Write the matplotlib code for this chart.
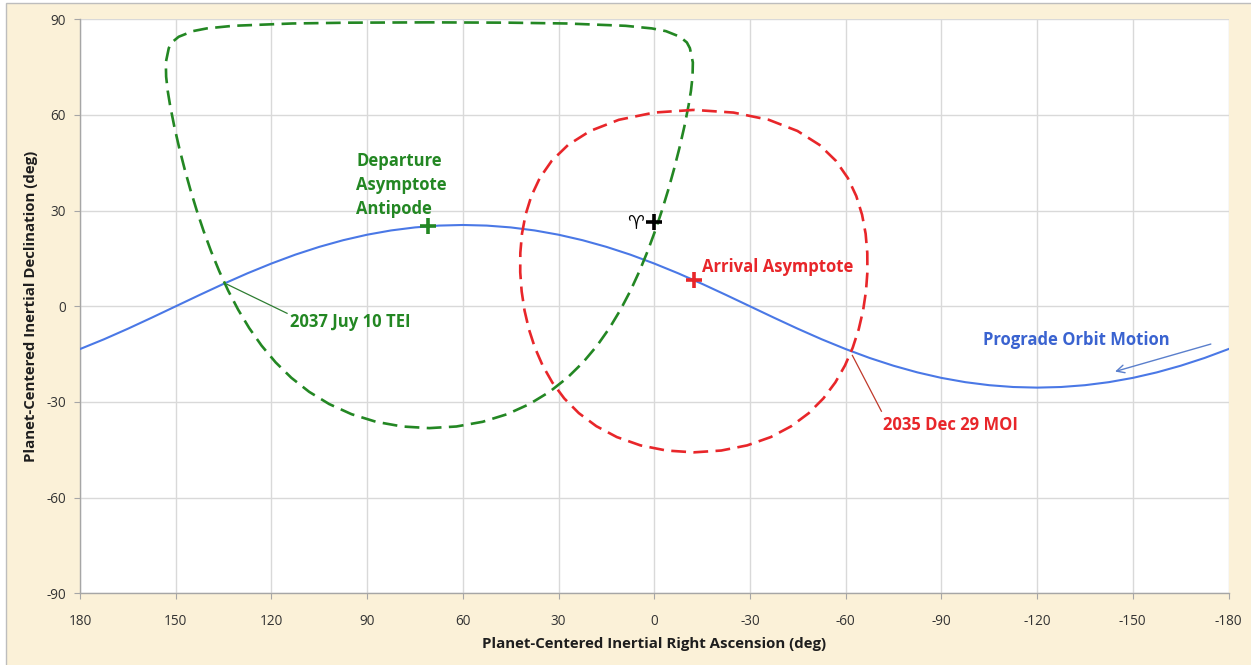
import matplotlib
matplotlib.use("Agg")
import matplotlib.pyplot as plt
from matplotlib.patches import Rectangle

plt.rcParams['axes.unicode_minus'] = False
plt.rcParams['font.family'] = ['Open Sans', 'DejaVu Sans']

# Orbit ground track (right ascension, declination), degrees
orbit_ra = [180, 172.5, 165, 157.5, 150, 142.5, 135, 127.5, 120, 112.5, 105, 97.5,
            90, 82.5, 75, 67.5, 60, 52.5, 45, 37.5, 30, 22.5, 15, 7.5, 0,
            -7.5, -15, -22.5, -30, -37.5, -45, -52.5, -60, -67.5, -75, -82.5,
            -90, -97.5, -105, -112.5, -120, -127.5, -135, -142.5, -150, -157.5,
            -165, -172.5, -180]
orbit_dec = [-13.41, -10.35, -7.04, -3.56, 0.0, 3.56, 7.04, 10.35, 13.41, 16.20, 18.64, 20.73,
             22.45, 23.79, 24.74, 25.31, 25.5, 25.31, 24.74, 23.79, 22.45, 20.73, 18.64, 16.20, 13.41,
             10.35, 7.04, 3.56, 0.0, -3.56, -7.04, -10.35, -13.41, -16.20, -18.64, -20.73,
             -22.45, -23.79, -24.74, -25.31, -25.5, -25.31, -24.74, -23.79, -22.45, -20.73,
             -18.64, -16.20, -13.41]

# Departure asymptote antipode locus
dep_ra = [70.5, 95.5, 113.45, 132.0, 140.27, 144.68, 149.07, 151.22, 152.17, 153.1,
          153.0, 152.5, 151.77, 150.44, 148.91, 147.22, 145.39, 143.4, 141.25, 138.91,
          136.35, 133.54, 130.42, 126.96, 123.07, 118.69, 113.75, 108.17, 101.88, 94.87,
          87.2, 79.0, 70.5,
          62.0, 53.8, 46.13, 39.12, 32.83, 27.25, 22.31, 17.93, 14.04, 10.58, 7.46,
          4.65, 2.09, -0.25, -2.4, -4.39, -6.22, -7.91, -9.44, -10.77, -11.5, -12.0,
          -12.1, -11.17, -10.22, -8.07, -3.68, 0.73, 9.0, 27.55, 45.5, 70.5]
dep_dec = [89.04, 88.94, 88.69, 87.96, 87.14, 86.28, 84.52, 82.74, 80.96, 76.48,
           72.0, 67.53, 63.06, 56.37, 49.72, 43.10, 36.53, 30.02, 23.59, 17.24,
           11.0, 4.88, -1.07, -6.83, -12.35, -17.57, -22.42, -26.82, -30.66, -33.84,
           -36.22, -37.69, -38.2,
           -37.69, -36.22, -33.84, -30.66, -26.82, -22.42, -17.57, -12.35, -6.83, -1.07, 4.88,
           11.0, 17.24, 23.59, 30.02, 36.53, 43.10, 49.72, 56.37, 63.06, 67.53, 72.0,
           76.48, 80.96, 82.74, 84.52, 86.28, 87.14, 87.96, 88.69, 88.94, 89.04]

# Arrival asymptote locus
arr_ra = [-12.4, 0.05, 11.11, 20.10, 27.01, 32.14, 35.88, 38.53, 40.34, 41.46, 41.98,
          42.01, 41.56, 40.66, 39.29, 37.42, 35.00, 31.96, 28.21, 23.64, 18.16, 11.72,
          4.34, -3.81, -12.4,
          -20.99, -29.14, -36.52, -42.96, -48.44, -53.01, -56.76, -59.80, -62.22, -64.09,
          -65.46, -66.36, -66.81, -66.78, -66.26, -65.14, -63.33, -60.68, -56.94, -51.81,
          -44.90, -35.91, -24.85, -12.4]
arr_dec = [61.59, 60.75, 58.48, 54.98, 50.60, 45.62, 40.23, 34.56, 28.72, 22.76, 16.74,
           10.69, 4.67, -1.31, -7.20, -12.95, -18.53, -23.87, -28.89, -33.50, -37.59, -41.01,
           -43.61, -45.23, -45.80,
           -45.23, -43.61, -41.01, -37.59, -33.50, -28.89, -23.87, -18.53, -12.95, -7.20,
           -1.31, 4.67, 10.69, 16.74, 22.76, 28.72, 34.56, 40.23, 45.62, 50.60,
           54.98, 58.48, 60.75, 61.59]

# Marked directions
dep_point = (70.9, 25.3)
arr_point = (-12.5, 8.2)
aries_point = (0.0, 26.4)

ticks = [180, 150, 120, 90, 60, 30, 0, -30, -60, -90, -120, -150, -180]
yticks = [-90, -60, -30, 0, 30, 60, 90]

GREEN = '#238723'
RED = '#E8262A'
BLUE = '#4A78E6'
BLUE_TXT = '#3A63D0'
GRID = '#D9D9D9'
AXIS = '#A6A6A6'
CREAM = '#FBF1D8'

fig = plt.figure(figsize=(12.51, 6.65), dpi=100, facecolor='white')
fig.patches.append(Rectangle((6 / 1251, -0.02), 1.1, 0.9955 + 0.02,
                             transform=fig.transFigure, facecolor=CREAM,
                             edgecolor='#BDBDBD', linewidth=1.0, zorder=-10))

ax = fig.add_axes([80 / 1251, 1 - 593.3 / 665, (1228.5 - 80) / 1251, (593.3 - 19.3) / 665])
ax.set_facecolor('white')
ax.set_xlim(180, -180)
ax.set_ylim(-90, 90)
ax.set_xticks(ticks)
ax.set_yticks(yticks)
ax.set_xticklabels([str(t) for t in ticks])
ax.set_yticklabels([str(t) for t in yticks])
ax.grid(True, color=GRID, linewidth=1.0)
ax.set_axisbelow(True)
for side in ('top', 'right'):
    ax.spines[side].set_visible(False)
for side in ('left', 'bottom'):
    ax.spines[side].set_color(AXIS)
    ax.spines[side].set_linewidth(1.0)
ax.tick_params(axis='x', direction='out', length=4, color=AXIS, pad=11,
               labelsize=9.8, labelcolor='#333333')
ax.tick_params(axis='y', direction='out', length=4, color=AXIS, pad=6,
               labelsize=9.8, labelcolor='#333333')

ax.set_xlabel('Planet-Centered Inertial Right Ascension (deg)', fontsize=10.8,
              fontweight='bold', color='#1E1E1E', labelpad=6)
ax.set_ylabel('Planet-Centered Inertial Declination (deg)', fontsize=10.8,
              fontweight='bold', color='#1E1E1E', labelpad=6)

ax.plot(orbit_ra, orbit_dec, color=BLUE, linewidth=1.5, zorder=3)
ax.plot(dep_ra, dep_dec, color=GREEN, linewidth=1.9, dashes=(5.6, 2.8), zorder=4)
ax.plot(arr_ra, arr_dec, color=RED, linewidth=1.9, dashes=(5.6, 2.8), zorder=4)

ax.plot(*dep_point, marker='+', color=GREEN, markersize=11, markeredgewidth=2.6, zorder=5)
ax.plot(*arr_point, marker='+', color=RED, markersize=11, markeredgewidth=2.6, zorder=5)
ax.plot(*aries_point, marker='+', color='black', markersize=11, markeredgewidth=2.6, zorder=5)
ax.text(6.0, 26.4, '\u2648', color='black', fontsize=13.5, ha='center', va='center',
        family=['DejaVu Sans'], fontweight='bold', zorder=5)

txt = dict(fontsize=12, fontweight='bold')
for line, y in zip(['Departure', 'Asymptote', 'Antipode'], [44.0, 36.4, 29.1]):
    ax.text(93.45, y, line, color=GREEN, ha='left', va='baseline', **txt)
ax.text(-15.0, 10.7, 'Arrival Asymptote', color=RED, ha='left', va='baseline', **txt)
ax.text(114.2, -6.4, '2037 Juy 10 TEI', color=GREEN, ha='left', va='baseline', **txt)
ax.text(-71.8, -38.9, '2035 Dec 29 MOI', color=RED, ha='left', va='baseline', **txt)
ax.text(-103.2, -12.2, 'Prograde Orbit Motion', color=BLUE_TXT, ha='left', va='baseline', **txt)

ax.plot([133.9, 115.1], [6.9, -2.2], color='#2E7D32', linewidth=0.9, zorder=3)
ax.plot([-62.1, -71.2], [-15.4, -32.9], color='#C0392B', linewidth=0.9, zorder=3)
ax.annotate('', xy=(-143.6, -20.7), xytext=(-175.3, -11.6),
            arrowprops=dict(arrowstyle='->', color='#5A7FCC', linewidth=1.0,
                            mutation_scale=14), zorder=5)

fig.savefig('out.png', dpi=100, facecolor=fig.get_facecolor())
